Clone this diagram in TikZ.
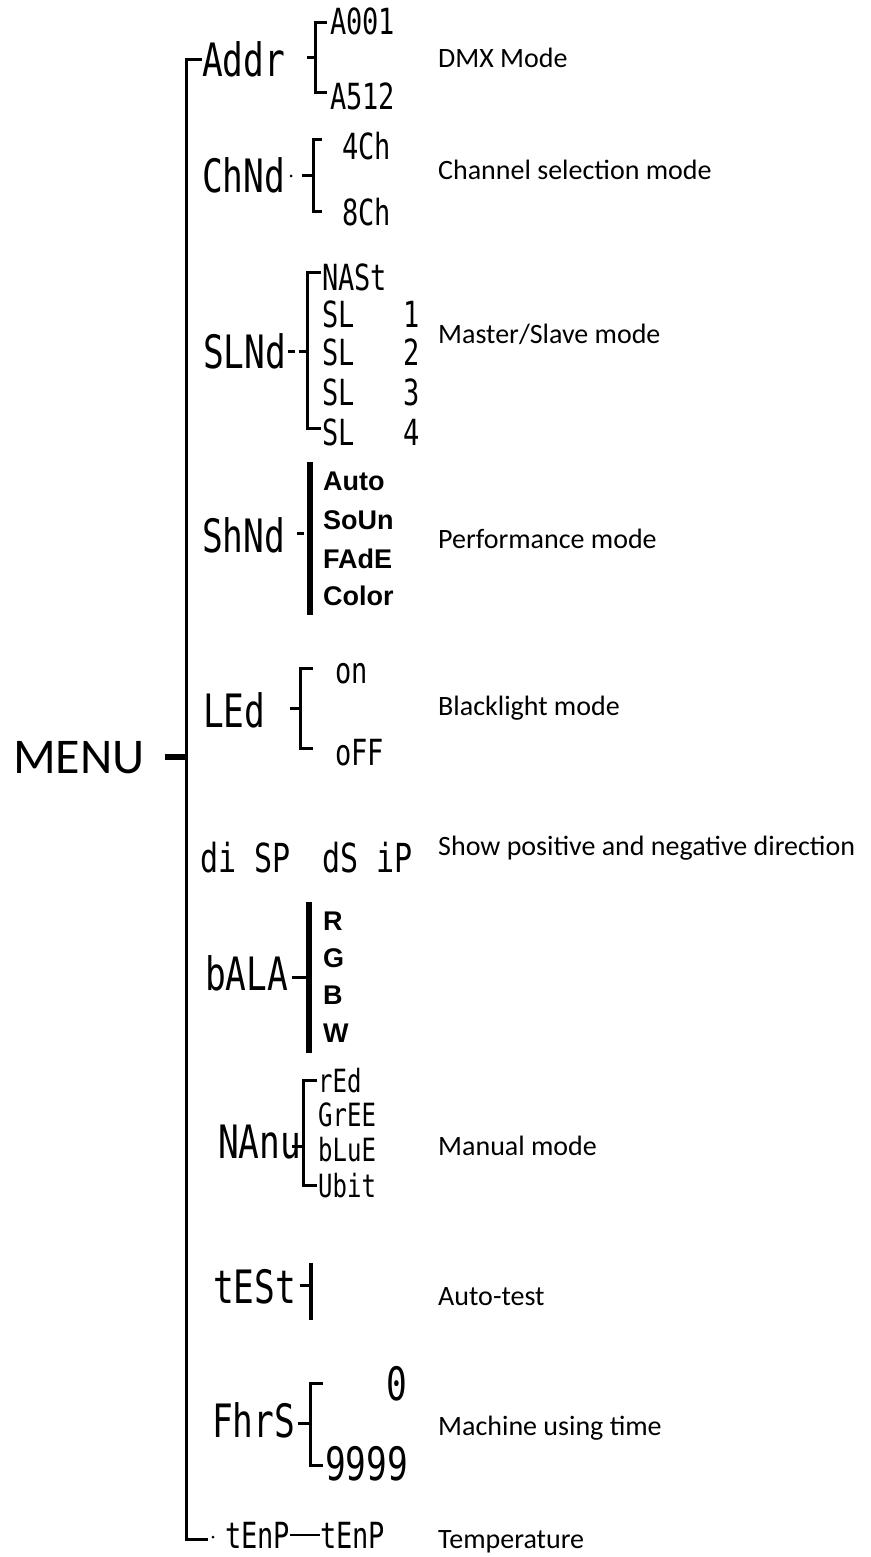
\documentclass[tikz,border=0pt]{standalone}
\usepackage{fontspec}
\setmainfont{Carlito}
\newfontfamily\lcdfont[FakeStretch=0.75]{DejaVu Sans Mono}
\newfontfamily\optfont{Liberation Sans}
\tikzset{>=stealth}

\begin{document}
\begin{tikzpicture}[x=1pt, y=-1pt,
    spine/.style={line width=3pt},
    brace/.style={line width=3pt},
    bar/.style={line width=6pt},
    lcd/.style={inner sep=0pt, anchor=base west, font=\lcdfont\fontsize{46}{46}\selectfont},
    lcdsub/.style={inner sep=0pt, anchor=base west, font=\lcdfont\fontsize{36}{36}\selectfont},
    lcdsmall/.style={inner sep=0pt, anchor=base west, font=\lcdfont\fontsize{32}{32}\selectfont},
    opt/.style={inner sep=0pt, anchor=base west, font=\optfont\bfseries\fontsize{27}{27}\selectfont},
    note/.style={inner sep=0pt, anchor=base west, font=\fontsize{28}{28}\selectfont}]
    \useasboundingbox (0,0) rectangle (870,1557);

    % menu and spine
    \node[inner sep=0pt, anchor=base west, font=\fontsize{50}{50}\selectfont] (menu) at (13,773) {MENU};
    \coordinate (spinebot) at (186,1539);
    \coordinate (spineend) at (208,1539);

    % main entries
    \node[lcd] (addr) at (202,77) {Addr};
    \node[lcd] (chnd) at (202,193) {ChNd};
    \node[lcd] (slnd) at (203,368) {SLNd};
    \node[lcd] (shnd) at (202,552) {ShNd};
    \node[lcd] (led) at (203,727) {LEd};
    \node[lcd, font=\lcdfont\fontsize{40}{40}\selectfont] (disp) at (200,872) {di SP};
    \node[lcd] (bala) at (205,990) {bALA};
    \node[lcd] (nanu) at (218,1158) {NAnu};
    \node[lcd] (test) at (213,1303) {tESt};
    \node[lcd] (fhrs) at (212,1437) {FhrS};
    \node[lcd, font=\lcdfont\fontsize{36}{36}\selectfont] (tenp) at (225,1548) {tEnP};

    \draw[spine] (addr.west) -| (spinebot) -- (spineend);
    \draw[bar] ([xshift=20]menu.east) -- (menu.east -| spinebot);
    \fill (213,1537) circle (1.5);

    % Addr
    \node[lcdsub] (a001) at (330,35) {A001};
    \node[lcdsub] (a512) at (330,110) {A512};
    \draw[brace] (307,58) -- (315,58);
    \draw[brace] (327,23) -- (315,23) -- (315,93) -- (327,93);

    % ChNd
    \fill (291,176) circle (1.5);
    \node[lcdsub] (ch4) at (342,160) {4Ch};
    \node[lcdsub] (ch8) at (342,225) {8Ch};
    \draw[brace] (302,176) -- (313,176);
    \draw[brace] (322,140) -- (313,140) -- (313,211) -- (322,211);

    % SLNd
    \node[lcdsub] (mast) at (322,290) {NASt};
    \node[lcdsub] (sl1) at (322,327) {SL~~~1};
    \node[lcdsub] (sl2) at (322,365) {SL~~~2};
    \node[lcdsub] (sl3) at (322,405) {SL~~~3};
    \node[lcdsub] (sl4) at (322,445) {SL~~~4};
    \draw[brace] (288,351) -- (295,351);
    \draw[brace] (299,351) -- (307,351);
    \draw[brace] (321,272) -- (307,272) -- (307,428) -- (321,428);

    % ShNd
    \node[opt] (auto) at (323,490) {Auto};
    \node[opt] (soun) at (323,529) {SoUn};
    \node[opt] (fade) at (323,568) {FAdE};
    \node[opt] (color) at (323,605) {Color};
    \draw[brace] (297,533) -- (304,533);
    \draw[bar] (309.5,462) -- (309.5,615);

    % LEd
    \node[lcdsub] (on) at (335,683) {on};
    \node[lcdsub] (off) at (335,765) {oFF};
    \draw[brace] (290,708) -- (300,708);
    \draw[brace] (313,668) -- (300,668) -- (300,748) -- (313,748);

    % diSP
    \node[lcd, font=\lcdfont\fontsize{40}{40}\selectfont] (dsip) at (322,872) {dS iP};

    % bALA
    \node[opt] (r) at (323,930) {R};
    \node[opt] (g) at (323,967) {G};
    \node[opt] (b) at (323,1004) {B};
    \node[opt] (w) at (323,1042) {W};
    \draw[brace] (292,977) -- (307,977);
    \draw[bar] (308.5,902) -- (308.5,1053);

    % NAnu
    \node[lcdsmall] (red) at (318,1092) {rEd};
    \node[lcdsmall] (gree) at (318,1126) {GrEE};
    \node[lcdsmall] (blue) at (318,1161) {bLuE};
    \node[lcdsmall] (ubit) at (318,1197) {Ubit};
    \draw[brace] (292,1146) -- (303,1146);
    \draw[brace] (317,1080) -- (303,1080) -- (303,1185) -- (317,1185);

    % tESt
    \draw[brace] (300,1285) -- (310,1285);
    \draw[line width=4pt] (311,1263) -- (311,1320);

    % FhrS
    \node[lcd, anchor=base east] (zero) at (407,1400) {0};
    \node[lcd] (nine) at (325,1480) {9999};
    \draw[brace] (298,1423) -- (310,1423);
    \draw[brace] (323,1383) -- (310,1383) -- (310,1465) -- (323,1465);

    % tEnP
    \node[lcd, font=\lcdfont\fontsize{36}{36}\selectfont] (tenp2) at (320,1548) {tEnP};
    \draw[line width=2pt] (tenp.east) -- (tenp2.west);

    % descriptions
    \node[note] (dmx) at (438,68) {DMX Mode};
    \node[note] (chan) at (438,180) {Channel selection mode};
    \node[note] (mslv) at (438,343) {Master/Slave mode};
    \node[note] (perf) at (438,548) {Performance mode};
    \node[note] (blck) at (438,715) {Blacklight mode};
    \node[note] (show) at (438,855) {Show positive and negative direction};
    \node[note] (manu) at (438,1155) {Manual mode};
    \node[note] (atst) at (438,1305) {Auto-test};
    \node[note] (mach) at (438,1435) {Machine using time};
    \node[note] (temp) at (438,1548) {Temperature};
\end{tikzpicture}
\end{document}
